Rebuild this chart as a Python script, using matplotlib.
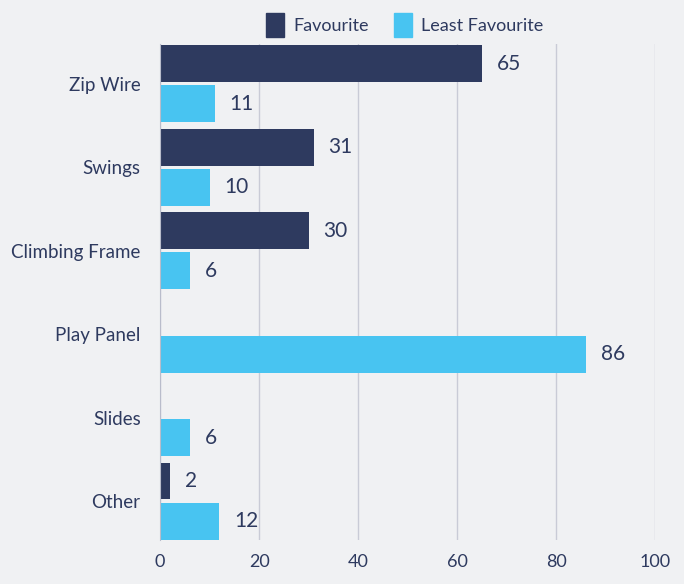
import matplotlib.pyplot as plt
import numpy as np
from matplotlib.patches import Patch

categories = ['Zip Wire', 'Swings', 'Climbing Frame', 'Play Panel', 'Slides', 'Other']
favourite = [65, 31, 30, 0, 0, 2]
least_favourite = [11, 10, 6, 86, 6, 12]
xticks = [0, 20, 40, 60, 80, 100]

navy = '#2e3a5f'
sky = '#48c4f1'
bg = '#f0f1f3'
text_col = '#2e3a5f'

plt.rcParams['font.family'] = ['Lato', 'DejaVu Sans']

fig = plt.figure(figsize=(6.84, 5.84), dpi=100, facecolor=bg)
ax = fig.add_axes([0.234, 0.0753, 0.724, 0.849], facecolor=bg)

y = np.arange(len(categories))
h = 0.443
ax.barh(y - 0.24, favourite, height=h, color=navy, zorder=3)
ax.barh(y + 0.24, least_favourite, height=h, color=sky, zorder=3)

for i in range(len(categories)):
    if favourite[i] > 0:
        ax.text(favourite[i] + 3, y[i] - 0.24, str(favourite[i]), va='center', ha='left',
                fontsize=15, color=text_col)
    if least_favourite[i] > 0:
        ax.text(least_favourite[i] + 3, y[i] + 0.24, str(least_favourite[i]), va='center', ha='left',
                fontsize=15, color=text_col)

ax.set_xlim(0, 100)
ax.set_ylim(5.467, -0.473)
ax.set_xticks(xticks)
ax.set_xticklabels([str(t) for t in xticks])
ax.set_yticks(y)
ax.set_yticklabels(categories, fontsize=13.5)
ax.tick_params(axis='both', length=0, colors=text_col)
ax.tick_params(axis='x', pad=10, labelsize=13)
ax.tick_params(axis='y', pad=14)
ax.grid(axis='x', color='#c9cbd6', linewidth=1, zorder=0)
for s in ['top', 'right', 'bottom']:
    ax.spines[s].set_visible(False)
ax.spines['left'].set_color('#b9bccb')
ax.spines['left'].set_zorder(4)

handles = [Patch(color=navy, label='Favourite'), Patch(color=sky, label='Least Favourite')]
fig.legend(handles=handles, loc='upper center', bbox_to_anchor=(0.592, 1.005), ncol=2, frameon=False,
           fontsize=13, labelcolor=text_col, handlelength=1.0, handleheight=1.6,
           handletextpad=0.5, columnspacing=1.4)

fig.savefig('out.png', dpi=100, facecolor=bg)
